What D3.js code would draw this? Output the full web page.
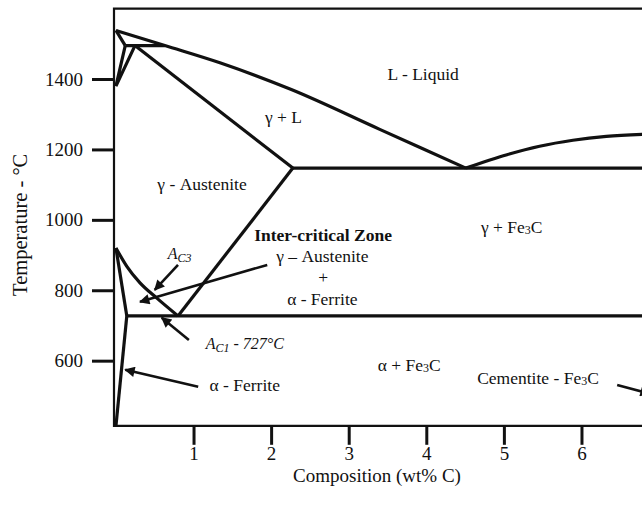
<!DOCTYPE html>
<html>
<head>
<meta charset="utf-8">
<script src="https://cdn.jsdelivr.net/npm/d3@7"></script>
<style>
  html, body { margin: 0; padding: 0; background: #fff; }
  svg { display: block; }
  text { font-family: "Liberation Serif", "Times New Roman", serif; fill: #111; }
</style>
</head>
<body>
<svg id="chart" width="642" height="506"></svg>
<script>
// Axis ticks
const compTicks = [1, 2, 3, 4, 5, 6];
const tempTicks = [600, 800, 1000, 1200, 1400];

// Phase boundaries of the Fe–Fe3C system, [wt% C, °C]
const liquidusIron = [[0, 1538], [0.63, 1495], [1.34, 1446], [2.26, 1370], [3.40, 1257], [4.51, 1147]];
const liquidusCementite = [[4.51, 1147], [5.04, 1185], [5.46, 1209], [5.89, 1226], [6.32, 1237], [6.80, 1243]];
const deltaSolidus = [[0, 1538], [0.12, 1495]];
const peritectic = [[0.12, 1495], [0.63, 1495]];
const deltaGamma = [[0.12, 1495], [0, 1380], [0.245, 1495]];
const gammaSolidus = [[0.245, 1495], [2.28, 1147]];
const eutectic = [[2.28, 1147], [6.80, 1147]];
const acmLine = [[2.28, 1147], [0.80, 727]];
const a3Line = [[0, 920], [0.14, 868], [0.31, 821], [0.52, 779], [0.80, 727]];
const alphaGamma = [[0, 920], [0.14, 727]];
const eutectoid = [[0.14, 727], [6.80, 727]];
const alphaSolvus = [[0.14, 727], [0, 415]];

const straightLines = [deltaSolidus, peritectic, deltaGamma, gammaSolidus, eutectic,
                       acmLine, alphaGamma, eutectoid, alphaSolvus];
const curvedLines = [liquidusIron, liquidusCementite, a3Line];

// Phase field labels, anchored at [wt% C, °C]
const fieldLabels = [
  { parts: [["L - Liquid"]], at: [3.96, 1398] },
  { parts: [["γ + L"]], at: [2.16, 1276] },
  { parts: [["γ - Austenite"]], at: [1.11, 1086] },
  { parts: [["γ + Fe"], ["3", "sub"], ["C"]], at: [5.10, 963] },
  { parts: [["Inter-critical Zone"]], at: [2.67, 941], bold: true },
  { parts: [["γ – Austenite"]], at: [2.66, 881] },
  { parts: [["+"]], at: [2.67, 821] },
  { parts: [["α - Ferrite"]], at: [2.66, 759] },
  { parts: [["A"], ["C3", "sub"]], at: [0.82, 890], italic: true },
  { parts: [["A"], ["C1", "sub"], [" - 727°C"]], at: [1.66, 634], italic: true },
  { parts: [["α + Fe"], ["3", "sub"], ["C"]], at: [3.78, 571] },
  { parts: [["α - Ferrite"]], at: [1.66, 514] },
  { parts: [["Cementite - Fe"], ["3", "sub"], ["C"]], at: [5.44, 534] }
];

// Pointer arrows, [from, to] in [wt% C, °C]
const pointers = [
  [[0.80, 872], [0.50, 801]],
  [[1.95, 872], [0.31, 767]],
  [[0.94, 659], [0.59, 722]],
  [[1.06, 526], [0.12, 574]],
  [[6.46, 531], [6.88, 506]]
];

const svg = d3.select("#chart");
const x = d3.scaleLinear().domain([-0.025, 6.78]).range([114, 642]);
const y = d3.scaleLinear().domain([415, 1600]).range([425.8, 8.6]);

// Arrowhead
svg.append("defs").append("marker")
  .attr("id", "head")
  .attr("viewBox", "0 0 10 10")
  .attr("refX", 9).attr("refY", 5)
  .attr("markerWidth", 4.6).attr("markerHeight", 4)
  .attr("orient", "auto")
  .attr("markerUnits", "strokeWidth")
  .append("path").attr("d", "M0,0 L10,5 L0,10 z").attr("fill", "#111");

// Plot frame (top, left, bottom)
const [x0, x1] = x.range();
const yTop = y(1600), yBot = y(415);
svg.append("path")
  .attr("d", `M${x1},${yTop} L${x0},${yTop} L${x0},${yBot} L${x1},${yBot}`)
  .attr("fill", "none").attr("stroke", "#111").attr("stroke-width", 2.2);

// Temperature axis
const yAxis = svg.append("g").attr("transform", `translate(${x0},0)`)
  .call(d3.axisLeft(y).tickValues(tempTicks).tickSize(22).tickPadding(9).tickFormat(d3.format("d")));
yAxis.select(".domain").remove();
yAxis.selectAll(".tick line").attr("stroke", "#111").attr("stroke-width", 3);
yAxis.selectAll(".tick text")
  .style("font-family", '"Liberation Serif", serif').style("font-size", "19px").attr("fill", "#111");

// Composition axis
const xAxis = svg.append("g").attr("transform", `translate(0,${yBot + 1})`)
  .call(d3.axisBottom(x).tickValues(compTicks).tickSize(18).tickFormat(d3.format("d")));
xAxis.select(".domain").remove();
xAxis.selectAll(".tick line").attr("stroke", "#111").attr("stroke-width", 3);
xAxis.selectAll(".tick text")
  .attr("y", 33.5).attr("dy", 0)
  .style("font-family", '"Liberation Serif", serif').style("font-size", "19px").attr("fill", "#111");

// Axis titles
svg.append("text")
  .attr("x", (x(0) + x(6.78)) / 2 - 2).attr("y", 482)
  .attr("text-anchor", "middle").style("font-size", "19px")
  .text("Composition (wt% C)");
svg.append("text")
  .attr("transform", `translate(27,${(y(600) + y(1400)) / 2 + 5}) rotate(-90)`)
  .attr("text-anchor", "middle").style("font-size", "20.5px")
  .text("Temperature - °C");

// Phase boundaries
const lineGen = d3.line().x(d => x(d[0])).y(d => y(d[1]));
const curveGen = d3.line().x(d => x(d[0])).y(d => y(d[1])).curve(d3.curveMonotoneX);
const phases = svg.append("g").attr("fill", "none").attr("stroke", "#111")
  .attr("stroke-width", 3.2).attr("stroke-linejoin", "miter");
straightLines.forEach(pts => phases.append("path").attr("d", lineGen(pts)));
curvedLines.forEach(pts => phases.append("path").attr("d", curveGen(pts)));

// Field labels
fieldLabels.forEach(lab => {
  const t = svg.append("text")
    .attr("x", x(lab.at[0])).attr("y", y(lab.at[1]))
    .attr("text-anchor", "middle")
    .style("font-size", lab.italic ? "16px" : "17.5px")
    .style("font-weight", lab.bold ? "bold" : "normal")
    .style("font-style", lab.italic ? "italic" : "normal");
  let lowered = false;
  lab.parts.forEach(([str, kind]) => {
    const span = t.append("tspan").text(str);
    if (kind === "sub") {
      span.style("font-size", "12px").attr("dy", lab.italic ? 3 : 1);
      lowered = true;
    } else if (lowered) {
      span.attr("dy", lab.italic ? -3 : -1);
      lowered = false;
    }
  });
});

// Pointer arrows
svg.append("g").selectAll("line").data(pointers).join("line")
  .attr("x1", d => x(d[0][0])).attr("y1", d => y(d[0][1]))
  .attr("x2", d => x(d[1][0])).attr("y2", d => y(d[1][1]))
  .attr("stroke", "#111").attr("stroke-width", 2.6)
  .attr("marker-end", "url(#head)");
</script>
</body>
</html>
